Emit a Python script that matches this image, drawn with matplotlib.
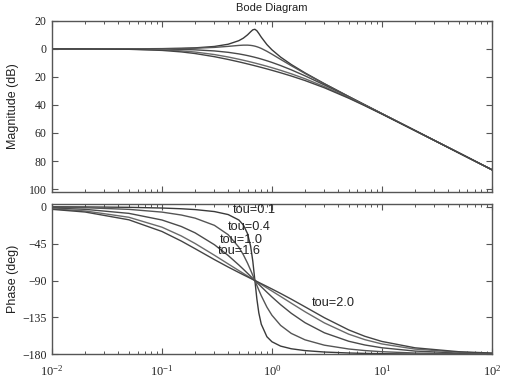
import matplotlib
matplotlib.use("Agg")
import matplotlib.pyplot as plt
from matplotlib.ticker import FixedLocator, FixedFormatter, LogLocator, NullFormatter

# ---- data ----
freq = [0.01, 0.02, 0.05, 0.1, 0.15, 0.2, 0.3, 0.4, 0.5, 0.55, 0.6, 0.64, 0.67, 0.7,
        0.73, 0.76, 0.8, 0.9, 1.0, 1.2, 1.5, 2, 3, 5, 7, 10, 20, 50, 100]

tou_labels = ["tou=0.1", "tou=0.4", "tou=1.0", "tou=1.6", "tou=2.0"]

mag_t01 = [0.00, 0.01, 0.04, 0.18, 0.40, 0.72, 1.72, 3.31, 5.85, 7.67, 10.01, 12.19, 13.60, 13.98,
           12.91, 11.02, 8.36, 3.08, -0.66, -5.88, -11.17, -17.13, -24.81, -33.99, -39.91, -46.15,
           -58.23, -74.15, -86.20]
mag_t04 = [0.00, 0.00, 0.03, 0.12, 0.27, 0.48, 1.06, 1.79, 2.47, 2.66, 2.67, 2.50, 2.27, 1.94,
           1.53, 1.04, 0.32, -1.72, -3.78, -7.51, -12.00, -17.52, -24.96, -34.04, -39.94, -46.17,
           -58.23, -74.15, -86.20]
mag_t10 = [-0.01, -0.01, -0.04, -0.18, -0.39, -0.68, -1.47, -2.45, -3.58, -4.18, -4.78, -5.28, -5.65, -6.02,
           -6.39, -6.76, -7.26, -8.48, -9.66, -11.91, -14.95, -19.24, -25.74, -34.32, -40.09, -46.24,
           -58.25, -74.16, -86.20]
mag_t16 = [-0.01, -0.03, -0.18, -0.68, -1.40, -2.25, -4.06, -5.79, -7.38, -8.11, -8.80, -9.34, -9.73, -10.10,
           -10.47, -10.83, -11.29, -12.39, -13.42, -15.30, -17.78, -21.30, -26.90, -34.81, -40.34, -46.37,
           -58.28, -74.16, -86.20]
mag_t20 = [-0.01, -0.05, -0.30, -1.09, -2.16, -3.32, -5.57, -7.54, -9.24, -10.01, -10.73, -11.27, -11.66, -12.04,
           -12.41, -12.76, -13.22, -14.29, -15.28, -17.06, -19.36, -22.60, -27.75, -35.21, -40.57, -46.48,
           -58.31, -74.17, -86.20]

ph_t01 = [-0.16, -0.33, -0.82, -1.67, -2.57, -3.56, -5.99, -9.63, -16.26, -22.33, -32.87, -48.10, -66.34, -90.0,
          -112.77, -129.47, -143.25, -158.51, -164.65, -169.97, -173.20, -175.44, -177.17, -178.36, -178.84,
          -179.19, -179.60, -179.84, -179.92]
ph_t04 = [-0.66, -1.31, -3.29, -6.65, -10.19, -13.98, -22.78, -34.17, -49.40, -58.67, -68.85, -77.36, -83.75, -90.0,
          -95.99, -101.63, -108.51, -122.41, -132.33, -144.72, -154.49, -162.30, -168.83, -173.48, -175.38,
          -176.78, -178.39, -179.36, -179.68]
ph_t10 = [-1.64, -3.27, -8.17, -16.26, -24.19, -31.89, -46.40, -59.49, -71.08, -76.31, -81.20, -84.87, -87.49, -90.0,
          -92.40, -94.71, -97.63, -104.25, -110.02, -119.49, -129.97, -141.42, -153.73, -164.06, -168.58,
          -171.99, -175.99, -178.40, -179.20]
ph_t16 = [-2.62, -5.23, -12.94, -25.02, -35.71, -44.87, -59.24, -69.78, -77.91, -81.35, -84.48, -86.79, -88.43, -90.0,
          -91.50, -92.95, -94.78, -99.02, -102.83, -109.46, -117.65, -128.08, -141.70, -155.44, -162.09,
          -167.31, -173.60, -177.44, -178.72]
ph_t20 = [-3.27, -6.53, -16.02, -30.26, -41.94, -51.22, -64.54, -73.58, -80.27, -83.06, -85.58, -87.43, -88.74, -90.0,
          -91.20, -92.36, -93.83, -97.24, -100.32, -105.79, -112.74, -122.08, -135.37, -150.26, -158.00,
          -164.28, -172.02, -176.79, -178.40]

mag_series = [mag_t01, mag_t04, mag_t10, mag_t16, mag_t20]
ph_series = [ph_t01, ph_t04, ph_t10, ph_t16, ph_t20]

mag_ticks = [20, 0, -20, -40, -60, -80, -100]
mag_ticklabels = ["20", "0", "20", "40", "60", "80", "100"]
ph_ticks = [0, -45, -90, -135, -180]
ph_ticklabels = ["0", "\u221245", "\u221290", "\u2212135", "\u2212180"]

# label anchor positions (freq, phase)
label_pos = [(0.445, -4.0), (0.396, -24.5), (0.337, -40.3), (0.325, -54.0), (2.30, -117.8)]

# ---- styling ----
plt.rcParams['font.family'] = ['Liberation Serif', 'DejaVu Serif']
plt.rcParams['mathtext.fontset'] = 'stix'
plt.rcParams['mathtext.default'] = 'regular'

line_colors = ['#3a3a3a', '#555555', '#4a4a4a', '#6a6a6a', '#444444']
sans = ['Liberation Sans', 'DejaVu Sans']
axis_col = '#555555'

fig = plt.figure(figsize=(5.15, 3.86), dpi=100)
ax1 = fig.add_axes([0.101, 0.503, 0.854, 0.443])
ax2 = fig.add_axes([0.101, 0.082, 0.854, 0.389])

for m, c in zip(mag_series, line_colors):
    ax1.semilogx(freq, m, color=c, lw=1.0)
for p, c in zip(ph_series, line_colors):
    ax2.semilogx(freq, p, color=c, lw=1.0)

for ax in (ax1, ax2):
    ax.set_xlim(0.01, 100)
    ax.xaxis.set_major_locator(LogLocator(base=10, numticks=10))
    ax.xaxis.set_minor_locator(LogLocator(base=10, subs=range(2, 10), numticks=20))
    ax.xaxis.set_minor_formatter(NullFormatter())
    ax.tick_params(which='both', direction='in', top=True, right=True, colors=axis_col,
                   labelcolor='#222222')
    ax.tick_params(which='major', length=4, width=0.8)
    ax.tick_params(which='minor', length=2.5, width=0.7)
    for s in ax.spines.values():
        s.set_color(axis_col)
        s.set_linewidth(1.0)

ax1.set_ylim(-102, 20)
ax1.yaxis.set_major_locator(FixedLocator(mag_ticks))
ax1.yaxis.set_major_formatter(FixedFormatter(mag_ticklabels))
ax1.tick_params(axis='x', labelbottom=False)
ax1.tick_params(axis='y', labelsize=8.5, pad=4)

ax2.set_ylim(-180, 3)
ax2.yaxis.set_major_locator(FixedLocator(ph_ticks))
ax2.yaxis.set_major_formatter(FixedFormatter(ph_ticklabels))
ax2.tick_params(axis='y', labelsize=8.5, pad=4)
ax2.tick_params(axis='x', labelsize=9, pad=7)

ax1.set_title("Bode Diagram", family=sans, fontsize=8, pad=7, color='#222222')
ax1.set_ylabel("Magnitude (dB)", family=sans, fontsize=9, color='#222222')
ax2.set_ylabel("Phase (deg)", family=sans, fontsize=9, color='#222222')
ax1.yaxis.set_label_coords(-0.076, 0.5)
ax2.yaxis.set_label_coords(-0.074, 0.5)

for lab, (fx, fy) in zip(tou_labels, label_pos):
    ax2.text(fx, fy, lab, family=sans, fontsize=9.2, ha='left', va='center', color='#222222')

fig.savefig("out.png", dpi=100)
